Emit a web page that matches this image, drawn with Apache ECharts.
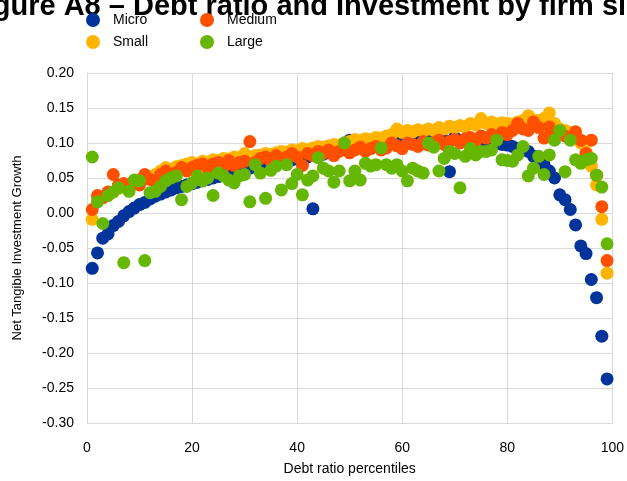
<!DOCTYPE html>
<html>
<head>
<meta charset="utf-8">
<script src="https://cdn.jsdelivr.net/npm/echarts@6/dist/echarts.min.js"></script>
<style>html,body{margin:0;padding:0;background:#fff}#c{width:627px;height:481px}</style>
</head>
<body>
<div id="c"></div>
<script>
const titleText = "Figure A8 – Debt ratio and Investment by firm size";
const seriesNames = ["Micro", "Small", "Medium", "Large"];
const xAxisTicks = [0, 20, 40, 60, 80, 100];
const yAxisTicks = [-0.30, -0.25, -0.20, -0.15, -0.10, -0.05, 0.00, 0.05, 0.10, 0.15, 0.20];
const percentiles = [1,2,3,4,5,6,7,8,9,10,11,12,13,14,15,16,17,18,19,20,21,22,23,24,25,26,27,28,29,30,31,32,33,34,35,36,37,38,39,40,41,42,43,44,45,46,47,48,49,50,51,52,53,54,55,56,57,58,59,60,61,62,63,64,65,66,67,68,69,70,71,72,73,74,75,76,77,78,79,80,81,82,83,84,85,86,87,88,89,90,91,92,93,94,95,96,97,98,99];

const micro = [-0.079,-0.057,-0.036,-0.030,-0.018,-0.012,-0.004,0.002,0.007,0.012,0.015,0.020,0.024,0.027,0.030,0.033,0.036,0.038,0.040,0.042,
0.044,0.046,0.048,0.050,0.052,0.054,0.056,0.058,0.060,0.062,0.064,0.066,0.068,0.069,0.070,0.072,0.073,0.075,0.076,0.078,
0.079,0.080,0.006,0.082,0.084,0.086,0.088,0.092,0.100,0.104,0.098,0.096,0.097,0.098,0.099,0.100,0.100,0.101,0.102,0.103,
0.108,0.104,0.103,0.104,0.105,0.104,0.105,0.104,0.059,0.108,0.104,0.103,0.104,0.102,0.100,0.101,0.100,0.099,0.098,0.097,
0.095,0.092,0.090,0.088,0.081,0.075,0.069,0.060,0.050,0.026,0.019,0.005,-0.017,-0.047,-0.058,-0.095,-0.121,-0.176,-0.237];

const small = [-0.009,0.020,0.022,0.025,0.030,0.035,0.038,0.040,0.045,0.048,0.050,0.052,0.055,0.060,0.065,0.062,0.066,0.068,0.070,0.072,
0.070,0.074,0.073,0.076,0.075,0.078,0.077,0.080,0.079,0.085,0.080,0.082,0.083,0.085,0.084,0.086,0.088,0.087,0.090,0.089,
0.092,0.090,0.093,0.095,0.094,0.096,0.098,0.097,0.100,0.102,0.105,0.104,0.106,0.105,0.108,0.107,0.110,0.112,0.120,0.115,
0.118,0.116,0.119,0.117,0.120,0.118,0.122,0.120,0.124,0.122,0.125,0.123,0.128,0.126,0.135,0.128,0.130,0.127,0.129,0.128,
0.127,0.130,0.132,0.139,0.133,0.132,0.135,0.143,0.128,0.120,0.118,0.115,0.110,0.100,0.087,0.067,0.040,-0.009,-0.086];

const medium = [0.005,0.025,0.022,0.030,0.055,0.040,0.042,0.035,0.045,0.040,0.055,0.048,0.045,0.055,0.060,0.052,0.058,0.065,0.060,0.065,
0.068,0.070,0.064,0.070,0.072,0.066,0.075,0.068,0.072,0.074,0.102,0.072,0.078,0.080,0.074,0.082,0.078,0.080,0.085,0.080,
0.068,0.085,0.082,0.088,0.085,0.090,0.082,0.088,0.092,0.086,0.090,0.094,0.088,0.092,0.095,0.090,0.093,0.100,0.096,0.092,
0.100,0.098,0.095,0.102,0.097,0.100,0.104,0.098,0.102,0.105,0.100,0.106,0.108,0.103,0.110,0.107,0.112,0.108,0.115,0.112,
0.118,0.128,0.120,0.118,0.130,0.122,0.107,0.123,0.112,0.116,0.110,0.107,0.116,0.104,0.085,0.104,0.054,0.009,-0.068];

const large = [0.080,0.016,-0.015,0.025,0.030,0.036,-0.071,0.031,0.047,0.046,-0.068,0.029,0.031,0.038,0.046,0.050,0.053,0.019,0.038,0.043,
0.053,0.046,0.050,0.025,0.057,0.053,0.047,0.043,0.053,0.055,0.016,0.069,0.057,0.021,0.061,0.067,0.033,0.069,0.042,0.055,
0.026,0.047,0.053,0.079,0.064,0.060,0.044,0.060,0.100,0.046,0.060,0.047,0.071,0.067,0.069,0.093,0.069,0.064,0.069,0.060,
0.046,0.064,0.060,0.057,0.100,0.094,0.060,0.078,0.088,0.085,0.036,0.081,0.092,0.083,0.088,0.088,0.090,0.104,0.076,0.075,
0.074,0.083,0.095,0.053,0.064,0.081,0.055,0.083,0.104,0.118,0.059,0.104,0.076,0.071,0.076,0.078,0.054,0.037,-0.044];

const colors = {Micro: "#00349a", Small: "#ffb400", Medium: "#ff5000", Large: "#66b604"};
const valuesByName = {Micro: micro, Small: small, Medium: medium, Large: large};

const chart = echarts.init(document.getElementById("c"), null, {renderer: "canvas"});
const FONT = "'Liberation Sans', Arial, sans-serif";

function legendAt(name, left, top) {
  return {
    data: [name], left: left, top: top, orient: "horizontal",
    icon: "circle", itemWidth: 14, itemHeight: 14, itemGap: 0, padding: 0,
    textStyle: {fontFamily: FONT, fontSize: 14, color: "#000", padding: [0, 0, 0, 8]},
    selectedMode: false
  };
}

chart.setOption({
  animation: false,
  backgroundColor: "#fff",
  textStyle: {fontFamily: FONT},
  graphic: [{
    type: "text", left: -33, top: -8,
    style: {text: titleText, font: "bold 29px " + FONT, fill: "#000"}
  }],
  legend: [
    legendAt("Micro", 86, 13),
    legendAt("Medium", 200, 13),
    legendAt("Small", 86, 35),
    legendAt("Large", 200, 35)
  ],
  grid: {left: 87, right: 14, top: 73, bottom: 54, containLabel: false},
  xAxis: {
    type: "value", min: 0, max: 100, interval: 20,
    name: "Debt ratio percentiles", nameLocation: "middle", nameGap: 39,
    nameTextStyle: {fontFamily: FONT, fontSize: 14, color: "#000"},
    axisLine: {show: true, lineStyle: {color: "#d9d9d9"}},
    axisTick: {show: false},
    axisLabel: {fontFamily: FONT, fontSize: 14, color: "#000", margin: 18},
    splitLine: {show: true, lineStyle: {color: "#d9d9d9", width: 1}}
  },
  yAxis: {
    type: "value", min: -0.30, max: 0.20, interval: 0.05,
    name: "Net Tangible Investment Growth", nameLocation: "middle", nameGap: 63, nameRotate: 90,
    nameTextStyle: {fontFamily: FONT, fontSize: 13, color: "#000"},
    axisLine: {show: true, lineStyle: {color: "#d9d9d9"}},
    axisTick: {show: false},
    axisLabel: {fontFamily: FONT, fontSize: 14, color: "#000", margin: 13,
      formatter: v => v.toFixed(2)},
    splitLine: {show: true, lineStyle: {color: "#d9d9d9", width: 1}}
  },
  series: seriesNames.map(n => ({
    name: n, type: "scatter", symbol: "circle", symbolSize: 13,
    itemStyle: {color: colors[n], opacity: 1},
    data: percentiles.map((p, i) => [p, valuesByName[n][i]])
  }))
});
</script>
</body>
</html>
